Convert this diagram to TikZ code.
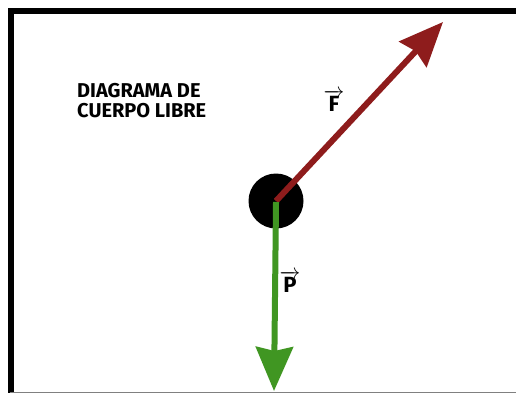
\documentclass[tikz,border=0pt]{standalone}
\usepackage{fontspec}
\setmainfont{Fira Sans}
\usetikzlibrary{arrows.meta,positioning}
\definecolor{fred}{RGB}{142,28,28}
\definecolor{pgreen}{RGB}{64,150,34}
\tikzset{
  force/.style={line width=6pt, -{Stealth[length=44pt,width=37pt,inset=4pt]}},
  lbl/.style={font=\fontsize{22}{22}\selectfont\bfseries, inner sep=0pt},
}
\begin{document}
\begin{tikzpicture}[x=1pt, y=-1pt]
  \useasboundingbox (0,0) rectangle (516,393);
  % marco de la viñeta
  \draw[line width=6pt] (10.5,400) -- (10.5,11.5) -- (530,11.5);
  \draw[gray, line width=1pt] (10,392.5) -- (516,392.5);
  % cuerpo
  \node[circle, fill=black, minimum size=55pt, inner sep=0pt] (body) at (276,201) {};
  \coordinate (Ftip) at (443,22);
  \coordinate (Ptip) at (274,391);
  \draw[force, fred] (body.center) -- (Ftip);
  \draw[force, pgreen, shorten <=-1pt] ([yshift=-2pt]body.center) -- (Ptip);
  % textos
  \node[lbl, align=left, anchor=north west, font=\fontsize{20}{20}\selectfont\bfseries] (title) at (77,83)
    {DIAGRAMA DE\\CUERPO LIBRE};
  \node[lbl] (Flbl) at (334,101) {$\overrightarrow{\textbf{F}}$};
  \node[lbl] (Plbl) at (290,282) {$\overrightarrow{\textbf{P}}$};
\end{tikzpicture}
\end{document}
